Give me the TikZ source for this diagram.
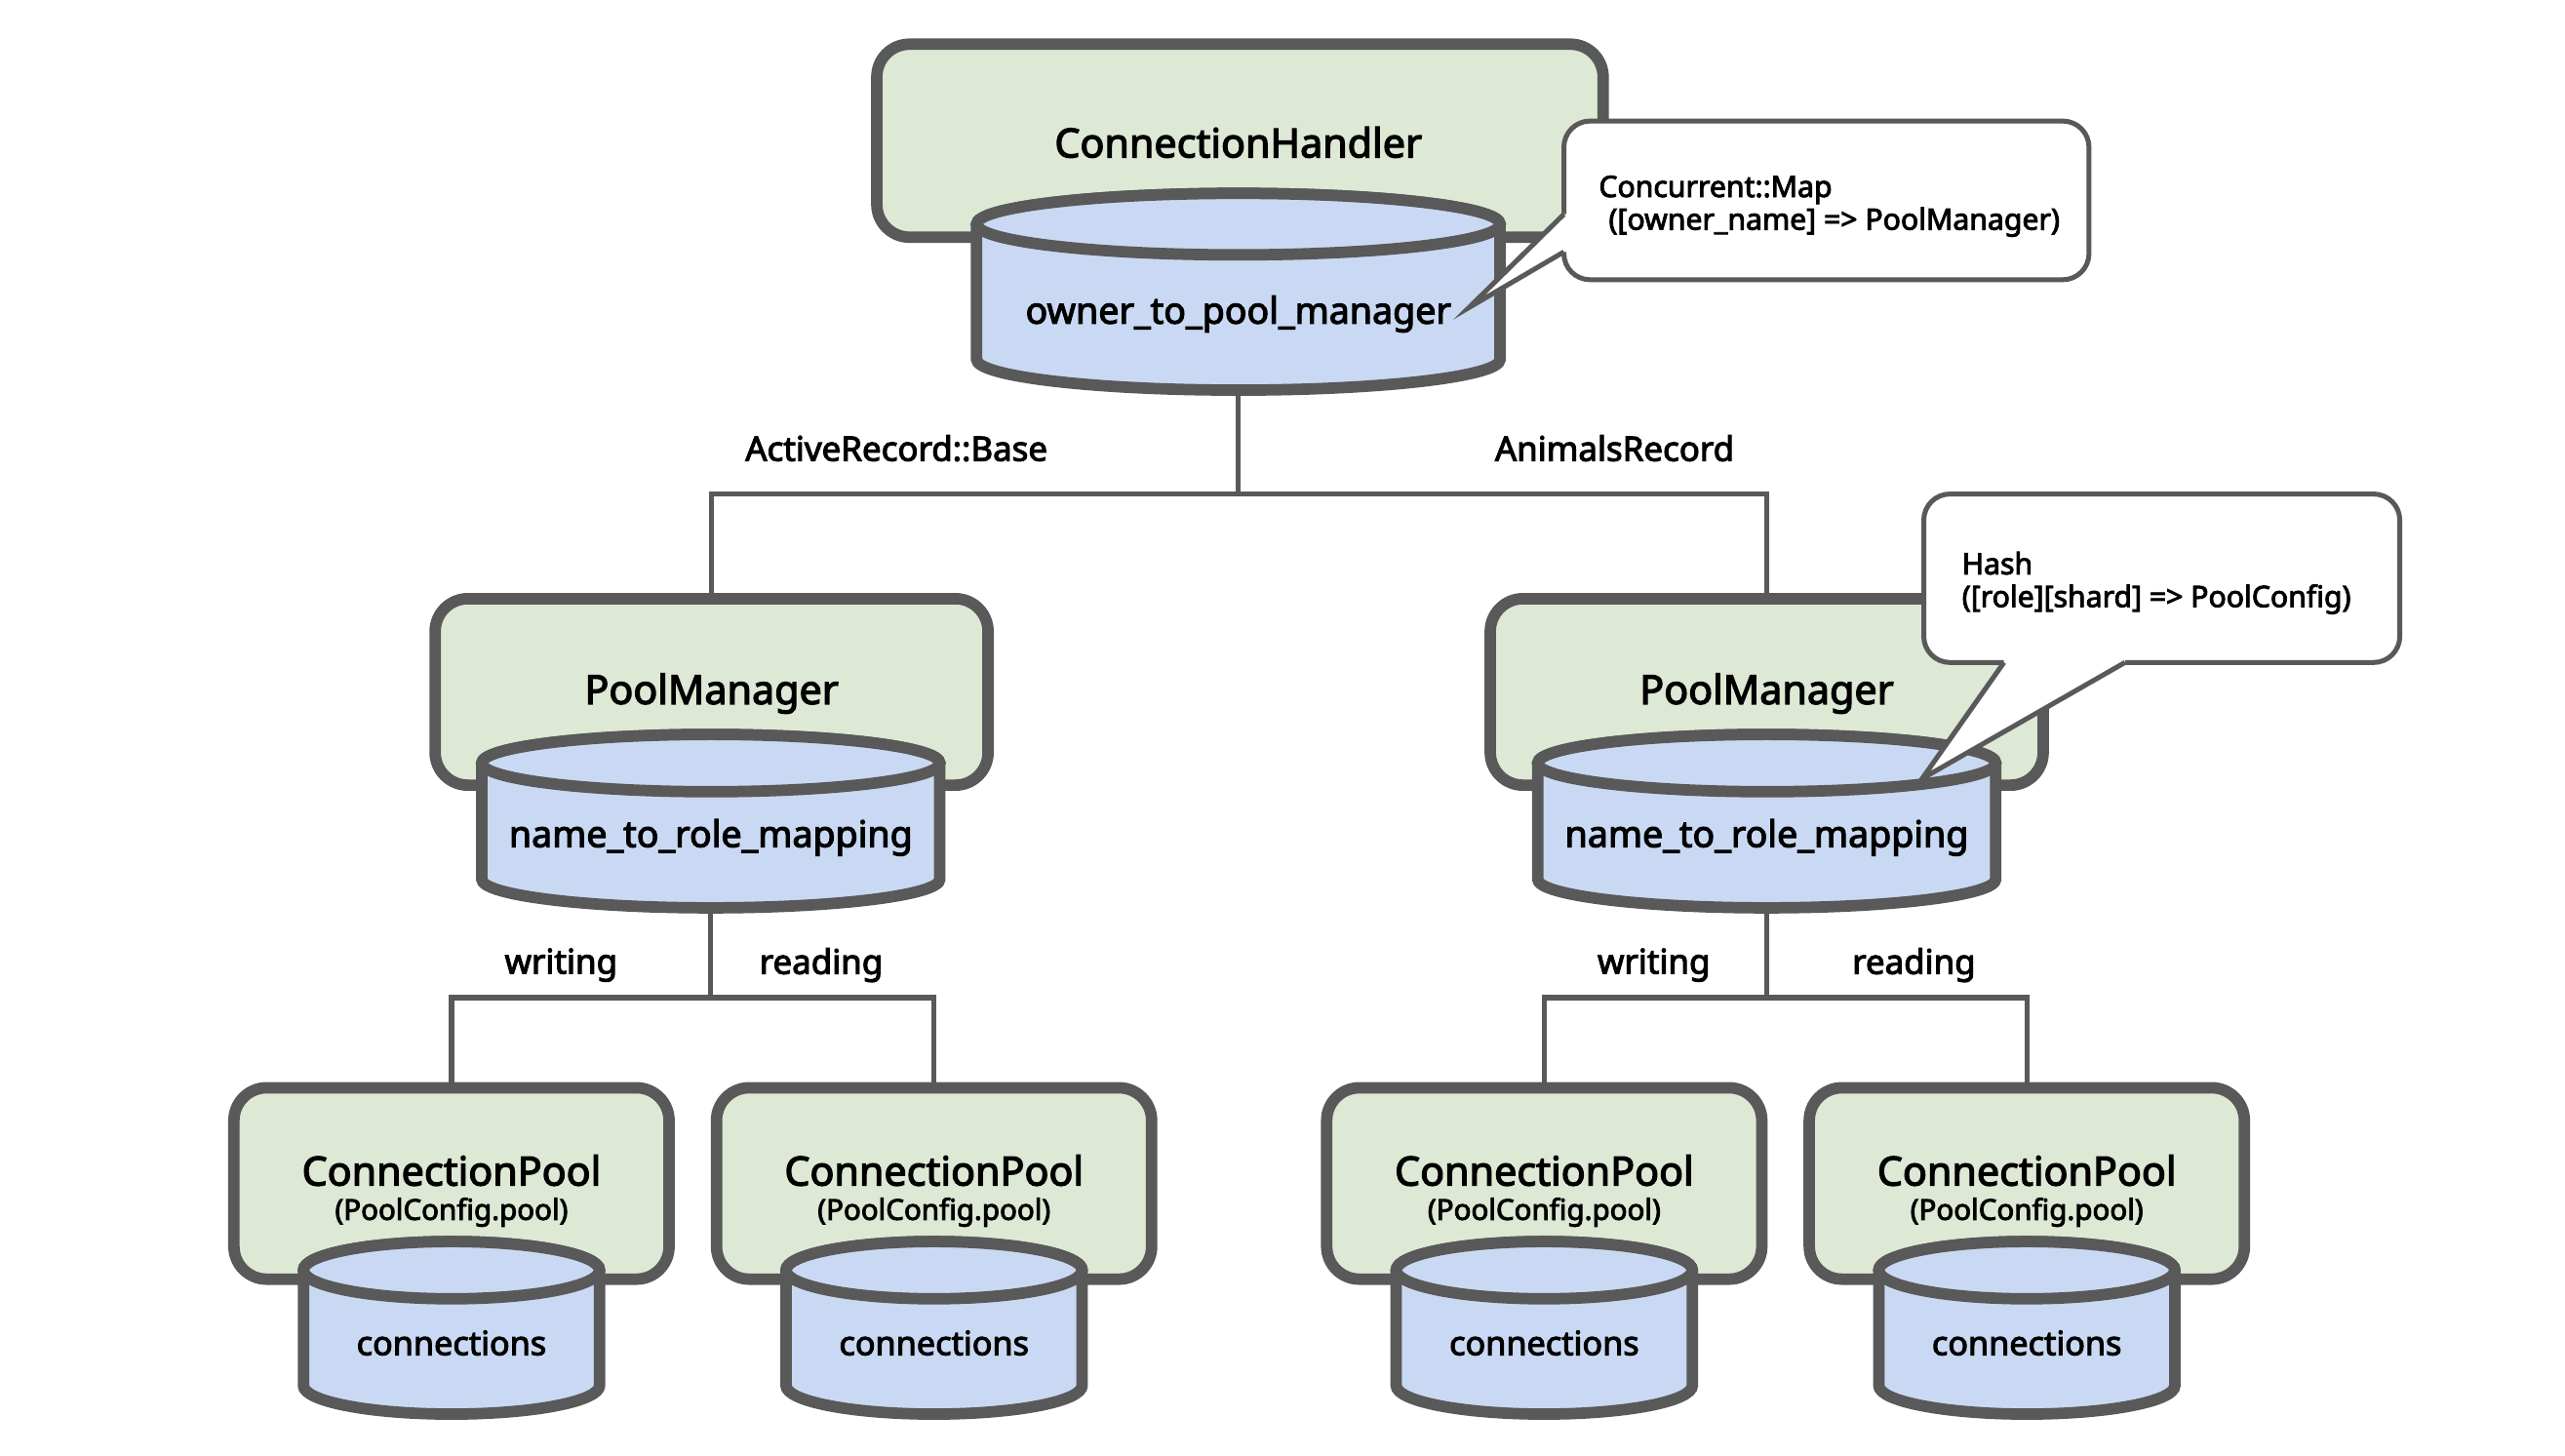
\documentclass[tikz,border=0pt]{standalone}
\usepackage{fontspec}
\setmainfont{Noto Sans}[AutoFakeBold=3]
\usetikzlibrary{positioning}

\definecolor{boxgreen}{HTML}{DDE8D5}
\definecolor{dbblue}{HTML}{CAD9F3}
\definecolor{edgegray}{HTML}{595959}

\tikzset{
  greenbox/.style={draw=edgegray, fill=boxgreen, line width=3.5pt, rounded corners=10pt},
  boxtitle/.style={align=center, inner sep=0pt, font=\bfseries\fontsize{12.3}{14}\selectfont},
  dbline/.style={draw=edgegray, fill=dbblue, line width=3.5pt},
  dblabel/.style={inner sep=1pt, font=\bfseries\fontsize{11.2}{13}\selectfont},
  wire/.style={draw=edgegray, line width=1.6pt},
  wirelabel/.style={inner sep=1pt, font=\bfseries\fontsize{10.4}{12}\selectfont},
  notebox/.style={draw=edgegray, fill=white, line width=1.5pt, rounded corners=8pt},
  noteline/.style={draw=edgegray, line width=1.5pt, line join=miter},
  notetext/.style={anchor=north west, inner sep=0pt, align=left,
    font=\bfseries\fontsize{9}{10}\selectfont},
}

% name, x, top y, bottom y, x radius, y radius, label y, label
\newcommand{\drumdb}[8]{%
  \draw[dbline] (#2-#5,#3) -- (#2-#5,#4)
    arc[start angle=180, end angle=360, x radius=#5*0.5pt, y radius=#6*0.5pt]
    -- (#2+#5,#3)
    arc[start angle=0, end angle=180, x radius=#5*0.5pt, y radius=#6*0.5pt] -- cycle;
  \draw[dbline] (#2,#3) ellipse[x radius=#5*0.5pt, y radius=#6*0.5pt];
  \coordinate (#1-bot) at (#2,#4+#6);
  \node[dblabel] (#1) at (#2,#7) {#8};
}
\newcommand{\pooltitle}{ConnectionPool\\[-3.5pt]{\fontsize{8.8}{10}\selectfont (PoolConfig.pool)}}

\begin{document}
\begin{tikzpicture}[x=0.5pt, y=-0.5pt]
  \useasboundingbox (0,0) rectangle (1568,890);

  % boxes
  \node[greenbox, minimum width=222pt, minimum height=59pt] (handler) at (758,86) {};
  \node[boxtitle] (handlertitle) at (757,87) {ConnectionHandler};
  \node[greenbox, minimum width=169pt, minimum height=57pt] (pmA) at (435,423) {};
  \node[boxtitle] (pmAtitle) at (435,424) {PoolManager};
  \node[greenbox, minimum width=169pt, minimum height=57pt] (pmB) at (1080,423) {};
  \node[boxtitle] (pmBtitle) at (1080,424) {PoolManager};
  \foreach \cp/\cx in {cpA/276, cpB/571, cpC/944, cpD/1239} {
    \node[greenbox, minimum width=133pt, minimum height=58.5pt] (\cp) at (\cx,723.5) {};
    \node[boxtitle] (\cp title) at (\cx,728) {\pooltitle};
  }

  % stores
  \drumdb{handlerdb}{757}{137}{219.7}{160}{18.8}{192}{owner\_to\_pool\_manager}
  \drumdb{pmAdb}{434.5}{466.5}{537.5}{140}{17.5}{512}{name\_to\_role\_mapping}
  \drumdb{pmBdb}{1080}{466.5}{537.5}{140}{17.5}{512}{name\_to\_role\_mapping}
  \begingroup\tikzset{dblabel/.append style={font=\bfseries\fontsize{10.2}{12}\selectfont}}
  \drumdb{cpAdb}{276}{776.5}{847}{90.5}{17.5}{821}{connections}
  \drumdb{cpBdb}{571}{776.5}{847}{90.5}{17.5}{821}{connections}
  \drumdb{cpCdb}{944}{776.5}{847}{90.5}{17.5}{821}{connections}
  \drumdb{cpDdb}{1239}{776.5}{847}{90.5}{17.5}{821}{connections}
  \endgroup

  % tree
  \coordinate (handlersplit) at (757,302);
  \coordinate (pmAsplit) at (434.5,610);
  \coordinate (pmBsplit) at (1080,610);
  \draw[wire] (handlerdb-bot) -- (handlersplit);
  \draw[wire] (pmA.north) |- (handlersplit) -| (pmB.north);
  \draw[wire] (pmAdb-bot) -- (pmAsplit);
  \draw[wire] (cpA.north) |- (pmAsplit) -| (cpB.north);
  \draw[wire] (pmBdb-bot) -- (pmBsplit);
  \draw[wire] (cpC.north) |- (pmBsplit) -| (cpD.north);

  \node[wirelabel] (baselbl) at (548,274) {ActiveRecord::Base};
  \node[wirelabel] (animalslbl) at (987,274) {AnimalsRecord};
  \node[wirelabel] (writeA) at (343,590) {writing};
  \node[wirelabel] (readA) at (502,590) {reading};
  \node[wirelabel] (writeB) at (1011,590) {writing};
  \node[wirelabel] (readB) at (1170,590) {reading};

  % notes
  \draw[notebox] (956,74) rectangle (1277,171);
  \fill[white] (956,131) -- (898,188) -- (956,154) -- (961,154) -- (961,131) -- cycle;
  \draw[noteline] (956,131) -- (898,188) -- (956,154);
  \node[notetext] (mapnote) at (977,107)
    {Concurrent::Map\\\hspace{3pt}([owner\_name] => PoolManager)};

  \draw[notebox] (1176,302) rectangle (1467,405);
  \fill[white] (1225,405) -- (1175,476) -- (1299,405) -- (1299,400) -- (1225,400) -- cycle;
  \draw[noteline] (1225,405) -- (1175,476) -- (1299,405);
  \node[notetext] (hashnote) at (1199,337)
    {Hash\\([role][shard] => PoolConfig)};
\end{tikzpicture}
\end{document}
